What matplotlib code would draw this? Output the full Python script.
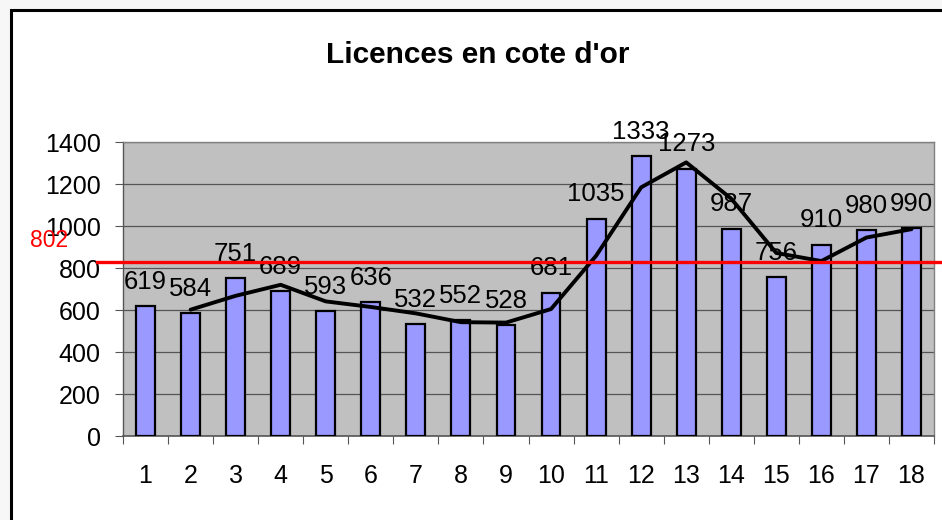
import matplotlib
matplotlib.use("Agg")
import matplotlib.pyplot as plt
from matplotlib.patches import Rectangle
from matplotlib.lines import Line2D
from matplotlib.ticker import MultipleLocator, FixedLocator

plt.rcParams['font.family'] = ['Liberation Sans', 'DejaVu Sans']

title = "Licences en cote d'or"
categories = list(range(1, 19))
licences = [619, 584, 751, 689, 593, 636, 532, 552, 528, 681,
            1035, 1333, 1273, 987, 756, 910, 980, 990]
# 2-period moving average trend line (starts at category 2)
trend_x = list(range(2, 19))
trend_y = [601.5, 667.5, 720, 641, 614.5, 584, 542, 540, 604.5, 858,
           1184, 1303, 1130, 871.5, 833, 945, 985]
mean_label = "802"
mean_line_level = 828  # where the red line is drawn in the picture

W, H = 942, 520
fig = plt.figure(figsize=(W / 100, H / 100), dpi=100)
fig.patch.set_facecolor('#f7f7f7')

# chart frame
frame = Rectangle((11 / W, -0.05), 1.1, (H - 10) / H + 0.05, transform=fig.transFigure,
                  facecolor='white', edgecolor='black', linewidth=2.2, zorder=-10)
fig.patches.append(frame)

ax = fig.add_axes([123 / W, (H - 436) / H, (934 - 123) / W, (436 - 142) / H])
ax.set_zorder(1)
ax.set_facecolor('#c0c0c0')

ax.bar(categories, licences, width=0.42, color='#9999ff', edgecolor='black',
       linewidth=1.6, zorder=3)

ax.plot(trend_x, trend_y, color='black', linewidth=2.8, zorder=4,
        solid_joinstyle='round', solid_capstyle='round')

for x, v in zip(categories, licences):
    ax.annotate(str(v), (x, v), xytext=(0, 9), textcoords='offset points',
                ha='center', va='bottom', fontsize=18.5, color='black', zorder=5)

ax.set_xlim(0.5, 18.5)
ax.set_ylim(0, 1400)
ax.yaxis.set_major_locator(MultipleLocator(200))
ax.grid(axis='y', color='#555555', linewidth=0.9, zorder=1)
ax.set_axisbelow(True)

ax.set_xticks(categories)
ax.set_xticklabels([str(c) for c in categories])
ax.xaxis.set_minor_locator(FixedLocator([c + 0.5 for c in [0] + categories]))
ax.tick_params(axis='x', which='major', length=0, pad=20, labelsize=18)
ax.tick_params(axis='x', which='minor', length=6, width=0.8, color='#555555')
ax.tick_params(axis='y', length=6, width=0.8, color='#555555', pad=10, labelsize=18)

for s in ['top', 'right']:
    ax.spines[s].set_color('#808080')
    ax.spines[s].set_linewidth(1.0)
ax.spines['left'].set_color('#555555')
ax.spines['bottom'].set_color('#555555')
ax.spines['left'].set_linewidth(1.0)
ax.spines['bottom'].set_linewidth(1.2)

# red reference line extending outside the plot area
ax.add_line(Line2D([-0.08, 18.8], [mean_line_level, mean_line_level], color='#ff0000',
                   linewidth=2.4, clip_on=False, zorder=6))
ax.annotate(mean_label, (-0.08, mean_line_level), xytext=(-21, 7),
            textcoords='offset points', ha='right', va='bottom',
            fontsize=16.5, color='#ff0000', annotation_clip=False)

fig.text(0.5075, (H - 55) / H, title, ha='center', va='center',
         fontsize=21.5, fontweight='bold')

fig.savefig('out.png', dpi=100)
